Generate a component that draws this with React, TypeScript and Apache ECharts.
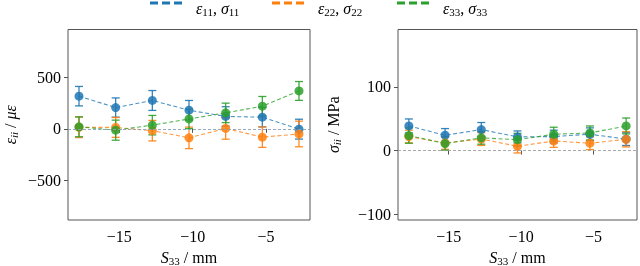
import React, { useEffect, useRef } from "react";
import * as echarts from "echarts";

const X_VALUES = [-17.75, -15.25, -12.75, -10.25, -7.75, -5.25, -2.75];
const SERIES_NAMES = ["e11", "e22", "e33"];
const SERIES_COLORS = ["#1f77b4", "#ff7f0e", "#2ca02c"];
const LEGEND_LABELS = [
  "{g| }{e|ε}{s|11}{n|, }{e|σ}{s|11}",
  "{g| }{e|ε}{s|22}{n|, }{e|σ}{s|22}",
  "{g| }{e|ε}{s|33}{n|, }{e|σ}{s|33}",
];

const STRAIN_11 = [319, 208, 277, 182, 121, 114, -3];
const STRAIN_11_ERR = [95, 94, 97, 95, 95, 95, 97];
const STRAIN_22 = [15, 14, -18, -88, 4, -81, -50];
const STRAIN_22_ERR = [100, 97, 100, 105, 105, 100, 125];
const STRAIN_33 = [20, -13, 36, 97, 156, 221, 370];
const STRAIN_33_ERR = [97, 98, 95, 95, 95, 95, 92];

const STRESS_11 = [38.6, 24, 33, 21.4, 22, 25.6, 18];
const STRESS_11_ERR = [11, 10.5, 11, 9.4, 10, 10, 10];
const STRESS_22 = [22, 12, 18, 6.7, 15, 11.5, 17.7];
const STRESS_22_ERR = [10, 10, 10, 10.5, 10, 10, 12];
const STRESS_33 = [23.5, 11, 20, 17, 25.6, 27.6, 38.6];
const STRESS_33_ERR = [12, 10.5, 10, 10, 11, 11, 12.5];

const X_TICKS = [-15, -10, -5];
const STRAIN_TICKS = [-500, 0, 500];
const STRESS_TICKS = [-100, 0, 100];

const FONT = "'Liberation Serif', 'DejaVu Serif', serif";
const FRAME = "#555";
const FS = 16;
const SUB = 11;

const fmt = (v: number) => (v < 0 ? "\u2212" + Math.abs(v) : String(v));

const nameRich = {
  i: { fontFamily: FONT, fontSize: FS, fontStyle: "italic", color: "#000", lineHeight: 20 },
  n: { fontFamily: FONT, fontSize: FS, color: "#000", lineHeight: 20 },
  si: { fontFamily: FONT, fontSize: SUB, fontStyle: "italic", color: "#000", padding: [8, 0, 0, 0] },
  s: { fontFamily: FONT, fontSize: SUB, color: "#000", padding: [8, 0, 0, 0] },
};

function errorSeries(name: string, color: string, values: number[], errs: number[], axis: number) {
  return {
    type: "custom",
    name,
    xAxisIndex: axis,
    yAxisIndex: axis,
    silent: true,
    z: 2,
    data: X_VALUES.map((x, i) => [x, values[i] - errs[i], values[i] + errs[i]]),
    encode: { x: 0, y: [1, 2] },
    renderItem: (_params: any, api: any) => {
      const x = api.value(0);
      const lo = api.coord([x, api.value(1)]);
      const hi = api.coord([x, api.value(2)]);
      const cw = 4;
      const style = { stroke: color, lineWidth: 1.3, opacity: 0.9 };
      return {
        type: "group",
        children: [
          { type: "line", shape: { x1: lo[0], y1: lo[1], x2: hi[0], y2: hi[1] }, style },
          { type: "line", shape: { x1: lo[0] - cw, y1: lo[1], x2: lo[0] + cw, y2: lo[1] }, style },
          { type: "line", shape: { x1: hi[0] - cw, y1: hi[1], x2: hi[0] + cw, y2: hi[1] }, style },
        ],
      };
    },
  };
}

function lineSeries(name: string, color: string, values: number[], axis: number, zeroColor: string | null) {
  const s: any = {
    type: "line",
    name,
    xAxisIndex: axis,
    yAxisIndex: axis,
    data: X_VALUES.map((x, i) => [x, values[i]]),
    symbol: "circle",
    symbolSize: 9,
    z: 3,
    itemStyle: { color, opacity: 0.85 },
    lineStyle: { color, width: 1.1, type: [4, 2.5], opacity: 0.8 },
  };
  if (zeroColor) {
    s.markLine = {
      silent: true,
      symbol: "none",
      label: { show: false },
      lineStyle: { color: zeroColor, width: 0.9, type: [3, 2] },
      data: [{ yAxis: 0 }],
    };
  }
  return s;
}

function xAxis(gridIndex: number) {
  return {
    type: "value",
    gridIndex,
    min: -18.5,
    max: -2.0,
    name: "{i|S}{s|33}{n| / mm}",
    nameLocation: "middle",
    nameGap: 27,
    nameTextStyle: { rich: nameRich },
    splitLine: { show: false },
    axisLine: { show: false },
    axisTick: { show: true, length: 4, customValues: X_TICKS, lineStyle: { color: FRAME } },
    axisLabel: {
      customValues: X_TICKS,
      formatter: fmt,
      fontFamily: FONT,
      fontSize: FS,
      color: "#000",
      margin: 8,
    },
  };
}

function yAxis(gridIndex: number, min: number, max: number, ticks: number[], name: string, nameGap: number) {
  return {
    type: "value",
    gridIndex,
    min,
    max,
    name,
    nameLocation: "middle",
    nameRotate: 90,
    nameGap,
    nameTextStyle: { rich: nameRich },
    splitLine: { show: false },
    axisLine: { show: false },
    axisTick: { show: true, length: 4, customValues: ticks, lineStyle: { color: FRAME } },
    axisLabel: {
      customValues: ticks,
      formatter: fmt,
      fontFamily: FONT,
      fontSize: FS,
      color: "#000",
      margin: 7,
    },
  };
}

const LEGEND_LEFTS = [150, 272, 397];

export default function App() {
  const ref = useRef<HTMLDivElement>(null);
  useEffect(() => {
    if (!ref.current) return;
    const chart = echarts.init(ref.current, undefined, { renderer: "svg" });
    const legendRich = {
      g: { width: 8 },
      e: { fontFamily: FONT, fontSize: FS, fontStyle: "italic", color: "#000", lineHeight: 20 },
      n: { fontFamily: FONT, fontSize: FS, color: "#000", lineHeight: 20 },
      s: { fontFamily: FONT, fontSize: SUB, color: "#000", padding: [8, 0, 0, 0] },
    };
    const iconLegends = SERIES_NAMES.map((name, i) => ({
      data: [{ name, itemStyle: { color: SERIES_COLORS[i] } }],
      left: LEGEND_LEFTS[i],
      top: 1.5,
      padding: 0,
      icon: "path://M0,0H8V3H0Z M12,0H20V3H12Z M24,0H32V3H24Z",
      itemWidth: 33,
      itemHeight: 3,
      formatter: () => "",
      textStyle: { fontSize: 1, lineHeight: 1 },
      selectedMode: false,
    }));
    const textLegends = SERIES_NAMES.map((name, i) => ({
      data: [{ name }],
      left: LEGEND_LEFTS[i],
      top: 0,
      padding: 0,
      icon: "none",
      itemWidth: 33,
      itemHeight: 3,
      formatter: () => LEGEND_LABELS[i],
      textStyle: { rich: legendRich },
      selectedMode: false,
    }));
    const series: any[] = [];
    const strain = [STRAIN_11, STRAIN_22, STRAIN_33];
    const strainErr = [STRAIN_11_ERR, STRAIN_22_ERR, STRAIN_33_ERR];
    const stress = [STRESS_11, STRESS_22, STRESS_33];
    const stressErr = [STRESS_11_ERR, STRESS_22_ERR, STRESS_33_ERR];
    SERIES_NAMES.forEach((name, i) => {
      series.push(errorSeries(name, SERIES_COLORS[i], strain[i], strainErr[i], 0));
      series.push(lineSeries(name, SERIES_COLORS[i], strain[i], 0, i === 0 ? "#8aa0b8" : null));
    });
    SERIES_NAMES.forEach((name, i) => {
      series.push(errorSeries(name, SERIES_COLORS[i], stress[i], stressErr[i], 1));
      series.push(lineSeries(name, SERIES_COLORS[i], stress[i], 1, i === 0 ? "#a0a0a0" : null));
    });
    const gridBase = {
      top: 29.5,
      height: 190.5,
      show: true,
      borderColor: FRAME,
      borderWidth: 1,
      backgroundColor: "transparent",
      containLabel: false,
      outerBoundsMode: "none",
    };
    chart.setOption({
      animation: false,
      legend: [...iconLegends, ...textLegends],
      grid: [
        { ...gridBase, left: 68, width: 242 },
        { ...gridBase, left: 398, width: 239 },
      ],
      xAxis: [xAxis(0), xAxis(1)],
      yAxis: [
        yAxis(0, -890, 970, STRAIN_TICKS, "{i|ε}{si|ii}{n| / }{i|με}", 48),
        yAxis(1, -109, 190, STRESS_TICKS, "{i|σ}{si|ii}{n| / MPa}", 55),
      ],
      series,
    });
    return () => chart.dispose();
  }, []);
  return <div ref={ref} style={{ position: "fixed", left: 0, top: 0, width: 640, height: 266 }} />;
}
